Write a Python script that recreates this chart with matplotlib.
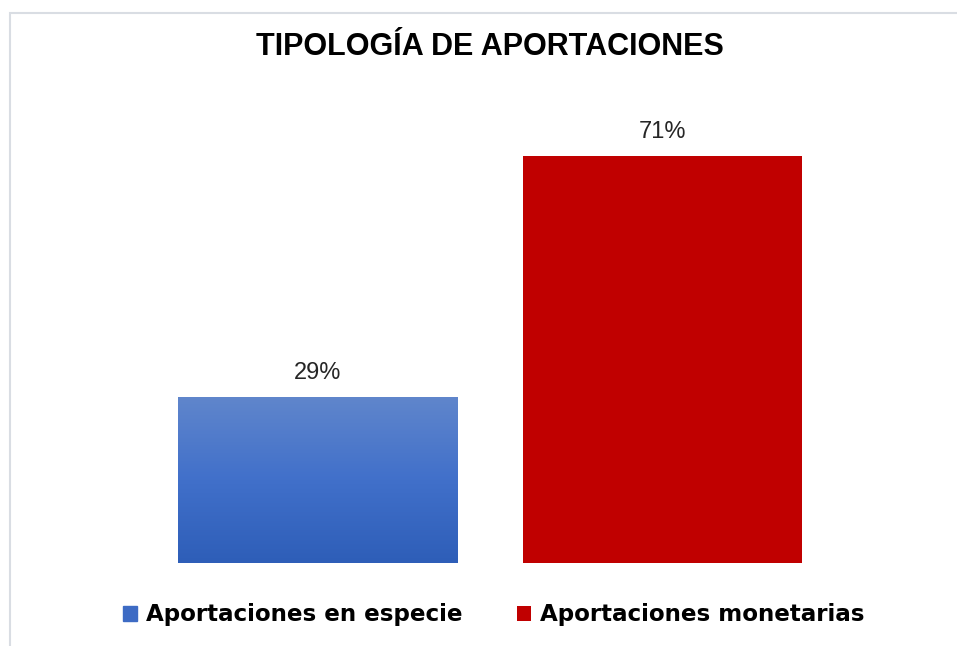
import numpy as np
import matplotlib.pyplot as plt
from matplotlib.patches import Rectangle
from matplotlib.colors import LinearSegmentedColormap

# data
categorias = ['Aportaciones en especie', 'Aportaciones monetarias']
porcentajes = [29, 71]
colores = ['#4472C4', '#C00000']
titulo = 'TIPOLOGÍA DE APORTACIONES'

plt.rcParams['font.family'] = ['Liberation Sans', 'DejaVu Sans']

fig = plt.figure(figsize=(9.57, 6.46), dpi=100)
ax = fig.add_axes([145/957, 1 - 563/646, 690/957, 459/646])

x = np.arange(len(categorias))
bars = ax.bar(x, porcentajes, width=0.81, color=colores, label=categorias)

ax.set_xlim(-0.5, 1.5)
ax.set_ylim(0, 80)

# gradient on the blue bar (lighter at top)
grad = np.linspace(0, 1, 256).reshape(-1, 1)
cmap = LinearSegmentedColormap.from_list('azul', ['#2E5EB8', '#4170CA', '#6086CC'])
b = bars[0]
img = ax.imshow(grad, cmap=cmap, aspect='auto', origin='lower',
                extent=[b.get_x(), b.get_x() + b.get_width(), 0, b.get_height()],
                zorder=b.get_zorder() + 0.1)
img.set_clip_path(b)

for xi, v in zip(x, porcentajes):
    ax.text(xi, v + 2.2, f'{v}%', ha='center', va='bottom', fontsize=17, color='#262626')

for s in ax.spines.values():
    s.set_visible(False)
ax.set_xticks([])
ax.set_yticks([])

fig.text(490/957, 1 - 47/646, titulo, ha='center', va='center',
         fontsize=22, fontweight='bold', color='black')

leg = fig.legend(handles=bars, labels=categorias, loc='center', ncol=2,
                 bbox_to_anchor=(494/957, 1 - 615/646), frameon=False,
                 prop={'family': 'DejaVu Sans', 'size': 16.6, 'weight': 'bold'},
                 handlelength=0.6, handleheight=0.6,
                 handletextpad=0.4, columnspacing=2.35)
leg.legend_handles[0].set_color('#3D6BC4')

# thin light border around the chart area
fig.patches.append(Rectangle((10/957, -0.05), 1.1, 1 - 13/646 + 0.05, transform=fig.transFigure,
                             fill=False, edgecolor='#D9DDE3', linewidth=1.5))

fig.savefig('out.png', dpi=100)
